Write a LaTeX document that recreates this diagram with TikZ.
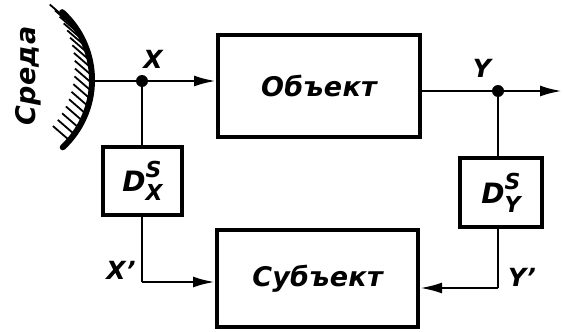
\documentclass[tikz,border=0pt]{standalone}
\usepackage{fontspec}
\setmainfont{DejaVu Sans}
\newfontfamily\draft[LetterSpace=1]{DejaVu Sans}[UprightFont=* Bold Oblique]
\usetikzlibrary{arrows.meta}
\tikzset{
  block/.style={draw, line width=4pt, inner sep=0pt, font=\draft\fontsize{27}{27}\selectfont},
  sensor/.style={draw, line width=4pt, inner sep=0pt, font=\draft\fontsize{28}{28}\selectfont},
  wire/.style={line width=2.6pt},
  flow/.style={wire, -{Latex[length=22pt,width=11pt]}},
  lbl/.style={font=\draft\fontsize{25}{25}\selectfont, inner sep=0pt},
  junction/.style={circle, fill, inner sep=0pt, minimum size=12pt},
  wall/.style={line width=6pt, line cap=round},
  hatch/.style={line width=1.8pt},
}
\newcommand\sensorlabel[2]{D\rlap{\raisebox{14pt}{\fontsize{22}{22}\selectfont #1}}\raisebox{-9pt}{\fontsize{22}{22}\selectfont #2}}
\begin{document}
\begin{tikzpicture}[x=1pt,y=-1pt]
\useasboundingbox (0,0) rectangle (563,332);

% environment wall with hatching on its concave side
\foreach \a in {-44,-39,...,44}
  \draw[hatch] ({90*cos(\a)},{80+90*sin(\a)}) -- ++(-15,-13);
\draw[wall] plot[domain=-47.5:47, samples=50] ({92*cos(\x)},{80+92*sin(\x)});
\coordinate (env) at (92,81);
\node[rotate=90, font=\draft\fontsize{27}{27}\selectfont] (envlbl) at (28,76) {Среда};

% blocks
\node[block, minimum width=202pt, minimum height=102pt] (obj) at (319,86) {Объект};
\node[block, minimum width=201pt, minimum height=97pt] (subj) at (317.5,278.5) {Субъект};
\node[sensor, minimum width=79pt, minimum height=68pt] (dx) at (142.5,181) {\sensorlabel{S}{X}};
\node[sensor, minimum width=82pt, minimum height=69pt] (dy) at (501,192.5) {\sensorlabel{S}{Y}};

% junctions and free end
\coordinate (xj) at (142,81);
\coordinate (yj) at (498,91);
\coordinate (out) at (562,91);
\coordinate (xc) at (142,282);
\coordinate (yc) at (498,288);

% connectors
\draw[flow] (env) -- (obj.west |- env);
\draw[flow] (obj.east |- yj) -- (out);
\draw[wire] (xj) -- (xj |- dx.north);
\draw[wire] (yj) -- (yj |- dy.north);
\draw[wire] (xj |- dx.south) -- (xc);
\draw[flow] (xc) -- (subj.west |- xc);
\draw[wire] (yj |- dy.south) -- (yc);
\draw[flow] (yc) -- (subj.east |- yc);
\node[junction] (xdot) at (xj) {};
\node[junction] (ydot) at (yj) {};

% signal labels
\node[lbl] (xl) at (153,59) {X};
\node[lbl] (yl) at (482,68) {Y};
\node[lbl] (xpl) at (121,270) {X’};
\node[lbl] (ypl) at (522,277) {Y’};
\end{tikzpicture}
\end{document}
